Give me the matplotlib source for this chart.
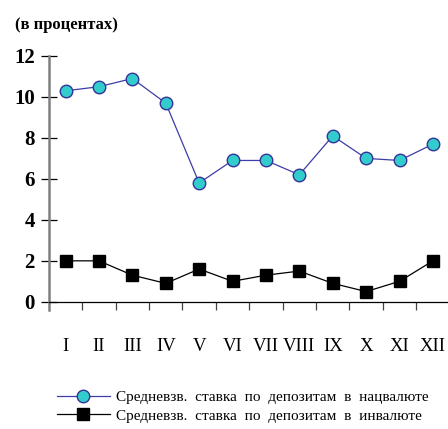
import matplotlib

matplotlib.use("Agg")
import matplotlib.pyplot as plt
from matplotlib.lines import Line2D

months = ["I", "II", "III", "IV", "V", "VI", "VII", "VIII", "IX", "X", "XI", "XII"]
rate_national = [10.3, 10.5, 10.9, 9.7, 5.8, 6.9, 6.9, 6.2, 8.1, 7.0, 6.9, 7.7]
rate_foreign = [2.0, 2.0, 1.3, 0.9, 1.6, 1.0, 1.3, 1.5, 0.9, 0.5, 1.0, 2.0]
y_ticks = [0, 2, 4, 6, 8, 10, 12]

label_national = "Средневзв.  ставка  по  депозитам  в  нацвалюте"
label_foreign = "Средневзв.  ставка  по  депозитам  в  инвалюте"

plt.rcParams["font.family"] = ["Liberation Serif", "DejaVu Serif"]

fig = plt.figure(figsize=(4.48, 4.29), dpi=100)
ax = fig.add_axes([0.109, 0.2774, 0.891, 0.5921])

x = range(len(months))
ax.plot(x, rate_national, color="#3d3da8", linewidth=0.9, marker="o",
        markersize=9, markerfacecolor="#33cccc", markeredgecolor="#333399",
        markeredgewidth=1.0, zorder=3)
ax.plot(x, rate_foreign, color="black", linewidth=0.9, marker="s",
        markersize=9, markerfacecolor="black", markeredgecolor="black", zorder=3)

ax.set_xlim(-0.5, 11.45)
ax.set_ylim(-0.4, 12)

for side in ("top", "right"):
    ax.spines[side].set_visible(False)
ax.spines["left"].set_color("#808080")
ax.spines["left"].set_linewidth(1.8)
ax.spines["bottom"].set_position(("data", 0))
ax.spines["bottom"].set_color("black")
ax.spines["bottom"].set_linewidth(0.9)

ax.set_yticks(y_ticks)
ax.set_yticklabels([str(v) for v in y_ticks])
ax.tick_params(axis="y", direction="inout", length=12, width=0.9, pad=4,
               labelsize=15)
for lbl in ax.get_yticklabels():
    lbl.set_fontweight("bold")

ax.set_xticks(list(x))
ax.set_xticklabels(months)
ax.tick_params(axis="x", which="major", length=0, pad=26, labelsize=13.5)
ax.set_xticks([i + 0.5 for i in range(11)], minor=True)
ax.tick_params(axis="x", which="minor", direction="out", length=6, width=0.9,
               color="#444444")

fig.text(0.033, 0.942, "(в процентах)", fontsize=12, fontweight="bold",
         ha="left", va="center")

handles = [
    Line2D([], [], color="#3d3da8", linewidth=0.9, marker="o", markersize=9,
           markerfacecolor="#33cccc", markeredgecolor="#333399"),
    Line2D([], [], color="black", linewidth=0.9, marker="s", markersize=9,
           markerfacecolor="black"),
]
fig.legend(handles, [label_national, label_foreign], loc="upper left",
           bbox_to_anchor=(0.127, 0.09), frameon=False, fontsize=11,
           handlelength=3.45, handletextpad=0.4, labelspacing=0.32,
           borderpad=0, borderaxespad=0)

fig.savefig("out.png", dpi=100)
